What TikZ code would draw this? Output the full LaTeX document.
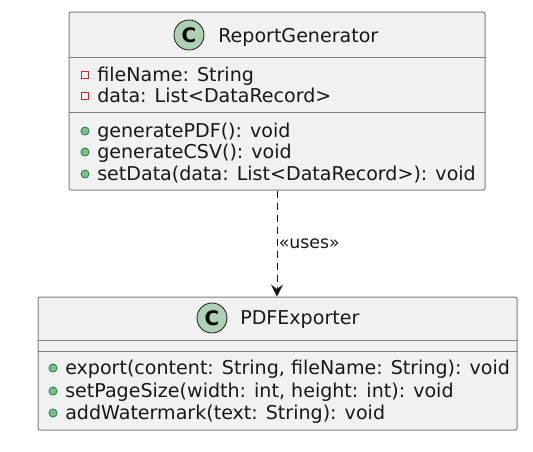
\documentclass[tikz,border=0pt]{standalone}
\usepackage{fontspec}
\setmainfont{DejaVu Sans}
\usetikzlibrary{arrows.meta}
\definecolor{boxfill}{HTML}{F1F1F1}
\definecolor{boxline}{HTML}{7F7F7F}
\definecolor{spotfill}{HTML}{ADD1B2}
\definecolor{privred}{HTML}{C82930}
\definecolor{pubfill}{HTML}{84BE84}
\definecolor{publine}{HTML}{038048}
\definecolor{inkc}{HTML}{181818}
\tikzset{
  classbox/.style={draw=boxline, fill=boxfill, rounded corners=1.5pt, line width=0.75pt, inner sep=0pt},
  sepline/.style={draw=boxline, line width=0.75pt},
  spot/.style={circle, draw=inkc, fill=spotfill, line width=0.6pt, minimum size=22.5pt, inner sep=0pt,
    font=\fontsize{15}{17}\selectfont\bfseries},
  classname/.style={anchor=base west, inner sep=0pt, text=inkc, font=\fontsize{14.3}{16}\selectfont},
  member/.style={anchor=base west, inner sep=0pt, text=inkc, font=\fontsize{14.3}{16}\selectfont},
  privmark/.style={rectangle, draw=privred, line width=0.7pt, minimum size=5.5pt, inner sep=0pt},
  pubmark/.style={circle, draw=publine, fill=pubfill, line width=0.6pt, minimum size=6pt, inner sep=0pt},
  uses/.style={draw=inkc, line width=0.75pt, dash pattern=on 5.25pt off 3.75pt,
    -{Stealth[length=9pt,width=9pt,inset=3.5pt]}}
}
\begin{document}
\begin{tikzpicture}[x=0.75pt,y=-0.75pt]
\useasboundingbox (0,0) rectangle (533,451);
% ReportGenerator
\node[classbox, minimum width=312pt, minimum height=133.5pt] (gen) at (277,101) {};
\draw[sepline] (gen.west |- 0,57) -- (gen.east |- 0,57);
\draw[sepline] (gen.west |- 0,112) -- (gen.east |- 0,112);
\node[spot] (genspot) at (189,35) {C};
\node[classname] (genname) at (218,42) {ReportGenerator};
\foreach \y/\txt in {81/fileName: String, 102/data: List<DataRecord>}
  \node[privmark] at (85,\y-6) {} node[member] at (97,\y) {\txt};
\foreach \y/\txt in {137/generatePDF(): void, 158/generateCSV(): void,
    180/setData(data: List<DataRecord>): void}
  \node[pubmark] at (85,\y-6) {} node[member] at (97,\y) {\txt};
% PDFExporter
\node[classbox, minimum width=359.25pt, minimum height=99.75pt] (pdf) at (277.5,363.5) {};
\draw[sepline] (pdf.west |- 0,340) -- (pdf.east |- 0,340);
\draw[sepline] (pdf.west |- 0,351) -- (pdf.east |- 0,351);
\node[spot] (pdfspot) at (212,318) {C};
\node[classname] (pdfname) at (240,324) {PDFExporter};
\foreach \y/\txt in {374/{export(content: String, fileName: String): void},
    397/{setPageSize(width: int, height: int): void}, 419/addWatermark(text: String): void}
  \node[pubmark] at (53,\y-6) {} node[member] at (65,\y) {\txt};
% dependency
\draw[uses] (gen.south) -- (gen.south |- pdf.north)
  node[midway, right, inner sep=1pt, text=inkc, font=\fontsize{13}{15}\selectfont] {«uses»};
\end{tikzpicture}
\end{document}
